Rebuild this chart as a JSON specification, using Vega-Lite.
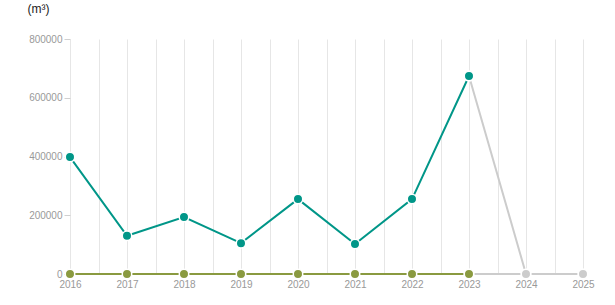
{
  "$schema": "https://vega.github.io/schema/vega-lite/v6.json",
  "autosize": "none",
  "width": 513,
  "height": 235,
  "padding": {"left": 70, "top": 39, "right": 32, "bottom": 31},
  "background": "white",
  "config": {"view": {"stroke": null}, "font": "Liberation Sans"},
  "data": {"values": [
    {"year": 2023, "value": 674000, "series": "pa"},
    {"year": 2024, "value": 0, "series": "pa"},
    {"year": 2025, "value": 0, "series": "pa"},
    {"year": 2023, "value": 0, "series": "pb"},
    {"year": 2024, "value": 0, "series": "pb"},
    {"year": 2025, "value": 0, "series": "pb"},
    {"year": 2016, "value": 0, "series": "b"},
    {"year": 2017, "value": 0, "series": "b"},
    {"year": 2018, "value": 0, "series": "b"},
    {"year": 2019, "value": 0, "series": "b"},
    {"year": 2020, "value": 0, "series": "b"},
    {"year": 2021, "value": 0, "series": "b"},
    {"year": 2022, "value": 0, "series": "b"},
    {"year": 2023, "value": 0, "series": "b"},
    {"year": 2016, "value": 398000, "series": "a"},
    {"year": 2017, "value": 130000, "series": "a"},
    {"year": 2018, "value": 194000, "series": "a"},
    {"year": 2019, "value": 105000, "series": "a"},
    {"year": 2020, "value": 255000, "series": "a"},
    {"year": 2021, "value": 102000, "series": "a"},
    {"year": 2022, "value": 255000, "series": "a"},
    {"year": 2023, "value": 674000, "series": "a"}
  ]},
  "encoding": {
    "x": {"field": "year", "type": "quantitative", "scale": {"domain": [2016, 2025], "nice": false, "zero": false},
      "axis": {"values": [2016, 2016.5, 2017, 2017.5, 2018, 2018.5, 2019, 2019.5, 2020, 2020.5, 2021, 2021.5, 2022, 2022.5, 2023, 2023.5, 2024, 2024.5, 2025],
        "labelExpr": "datum.value % 1 ? '' : '' + datum.value", "title": null, "domain": false, "ticks": false,
        "labelFlush": false, "labelOverlap": false, "labelBound": false,
        "grid": true, "gridColor": "#e6e6e6", "gridWidth": 1, "labelColor": "#999999", "labelFontSize": 10, "labelPadding": 5}},
    "y": {"field": "value", "type": "quantitative", "scale": {"domain": [0, 800000], "nice": false},
      "axis": {"values": [0, 200000, 400000, 600000, 800000], "format": "d", "grid": false, "domain": false,
        "ticks": true, "tickColor": "#d0d0d0", "tickSize": 6, "labelColor": "#999999", "labelFontSize": 10, "labelPadding": 2,
        "title": "(m³)", "titleAngle": 0, "titleX": -43, "titleY": -31, "titleAlign": "left", "titleBaseline": "middle",
        "titleFontWeight": "normal", "titleFontSize": 12, "titleColor": "#222222"}},
    "color": {"field": "series", "type": "nominal", "legend": null,
      "scale": {"domain": ["a", "b", "pa", "pb"], "range": ["#009688", "#8a9a40", "#cccccc", "#cccccc"]}}
  },
  "layer": [
    {"mark": {"type": "line", "strokeWidth": 2}, "transform": [{"filter": "datum.series == 'pa' || datum.series == 'pb'"}], "encoding": {"detail": {"field": "series"}}},
    {"mark": {"type": "line", "strokeWidth": 2}, "transform": [{"filter": "datum.series == 'a' || datum.series == 'b'"}], "encoding": {"detail": {"field": "series"}}},
    {"mark": {"type": "point", "filled": true, "size": 90, "stroke": "white", "strokeWidth": 1.5, "opacity": 1}, "encoding": {}}
  ]
}
